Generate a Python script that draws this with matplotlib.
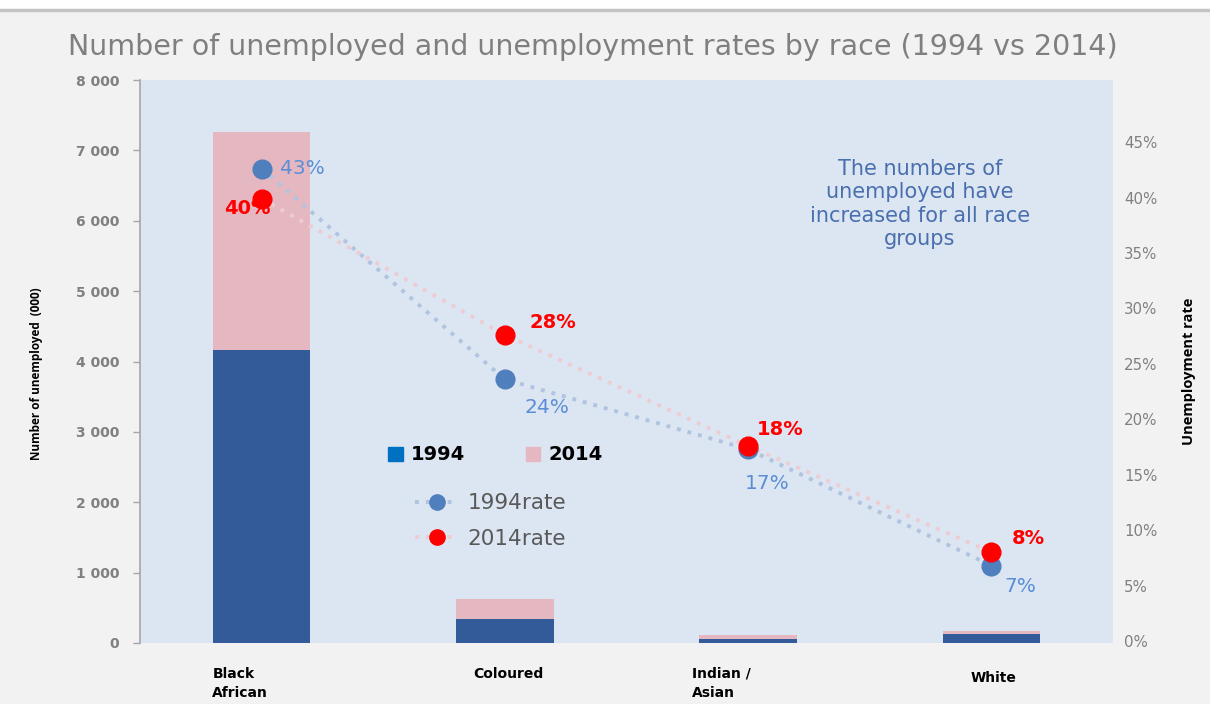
import matplotlib
matplotlib.use("Agg")
import matplotlib.pyplot as plt
from matplotlib.lines import Line2D
from matplotlib.patches import Patch, Rectangle
from matplotlib.ticker import FuncFormatter
import numpy as np

# ---- data -------------------------------------------------------------
categories = ["Black\nAfrican", "Coloured", "Indian /\nAsian", "White"]
unemployed_1994 = [4160, 337, 61, 124]      # thousands
unemployed_2014 = [7260, 625, 109, 166]     # thousands
rate_1994 = [0.426, 0.236, 0.173, 0.068]
rate_2014 = [0.399, 0.276, 0.176, 0.080]
count_ticks = [0, 1000, 2000, 3000, 4000, 5000, 6000, 7000, 8000]
rate_ticks = [0, 0.05, 0.10, 0.15, 0.20, 0.25, 0.30, 0.35, 0.40, 0.45]

# ---- styling ----------------------------------------------------------
W, H = 1210, 704
C_BAR94 = "#335A99"
C_BAR14 = "#E5B8C1"
C_DOT94 = "#4F7FBD"
C_DOT14 = "#FF0000"
C_LINE94 = "#B0C4E0"
C_LINE14 = "#EDCCD3"
C_LBL94 = "#5B8ED6"
GREY = "#808080"
DOTTED = (0, (1, 1.8))
AXIS_TITLE_FONT = ["Open Sans", "DejaVu Sans"]

plt.rcParams["font.family"] = ["DejaVu Sans"]

fig = plt.figure(figsize=(W / 100, H / 100), dpi=100, facecolor="#F2F2F2")

# white strip with a thin rule across the top
fig.patches.append(Rectangle((0, 1 - 9 / H), 1, 9 / H, transform=fig.transFigure,
                             facecolor="white", edgecolor="none", zorder=0))
fig.add_artist(Line2D([0, 1], [1 - 10 / H, 1 - 10 / H], transform=fig.transFigure,
                      color="#C4C4C4", lw=2.5))

ax = fig.add_axes([140 / W, 1 - 643 / H, (1113 - 140) / W, (643 - 80) / H])
ax.set_facecolor("#DCE6F2")

x = np.arange(len(categories))
ax.bar(x, unemployed_2014, width=0.4, color=C_BAR14, zorder=2)
ax.bar(x, unemployed_1994, width=0.4, color=C_BAR94, zorder=3)
ax.set_xlim(-0.5, 3.5)
ax.set_ylim(0, 8000)

for s in ("top", "right", "bottom"):
    ax.spines[s].set_visible(False)
ax.spines["left"].set_color("#A6A6A6")
ax.spines["left"].set_linewidth(1.2)
ax.set_yticks(count_ticks)
ax.yaxis.set_major_formatter(FuncFormatter(lambda v, p: f"{int(v):,}".replace(",", " ")))
ax.tick_params(axis="y", direction="out", length=5, width=1, color="#A6A6A6",
               labelcolor=GREY, labelsize=10, pad=10)
for t in ax.get_yticklabels():
    t.set_fontweight("bold")
ax.set_xticks([])
ax.set_ylabel("Number of unemployed  (000)", fontsize=8.5, fontweight="bold",
              color="black", family=AXIS_TITLE_FONT)
ax.yaxis.set_label_coords(-0.1, 0.478)

# category labels under the bars
label_dx = [-0.088, 0.015, -0.11, 0.01]
label_y = [-0.042, -0.042, -0.042, -0.049]
for xi, name, dx, ly in zip(x, categories, label_dx, label_y):
    ax.text(xi + dx, ly, name, transform=ax.get_xaxis_transform(), ha="center",
            va="top", multialignment="left", fontsize=10, fontweight="bold",
            color="black", linespacing=1.5, clip_on=False)

# ---- rates on the secondary axis -----------------------------------
ax2 = ax.twinx()
ax2.set_ylim(-0.0018, 0.506)
for s in ax2.spines.values():
    s.set_visible(False)
ax2.set_yticks(rate_ticks)
ax2.yaxis.set_major_formatter(FuncFormatter(lambda v, p: f"{v:.0%}"))
ax2.tick_params(axis="y", length=0, labelcolor=GREY, labelsize=10.8, pad=8)
ax2.set_ylabel("Unemployment rate", fontsize=10.5, fontweight="bold", color="black",
               family=AXIS_TITLE_FONT)
ax2.yaxis.set_label_coords(1.071, 0.483)

ax2.plot(x, rate_1994, color=C_LINE94, lw=2.8, ls=DOTTED, zorder=2)
ax2.plot(x, rate_2014, color=C_LINE14, lw=2.8, ls=DOTTED, zorder=2)
ax2.plot(x, rate_1994, ls="none", marker="o", ms=13.5, color=C_DOT94, zorder=3)
ax2.plot(x, rate_2014, ls="none", marker="o", ms=13.5, color=C_DOT14, zorder=4)

# value labels (offsets in points from each marker)
off_1994 = [(13, 0, "left"), (30, -20, "center"), (14, -25, "center"), (21, -15, "center")]
off_2014 = [(-10, -7, "center"), (18, 9, "left"), (6, 12, "left"), (15, 10, "left")]
for xi, v, (dx, dy, ha) in zip(x, rate_1994, off_1994):
    ax2.annotate(f"{v:.0%}", (xi, v), xytext=(dx, dy), textcoords="offset points",
                 ha=ha, va="center", fontsize=14.5, color=C_LBL94, zorder=6)
for xi, v, (dx, dy, ha) in zip(x, rate_2014, off_2014):
    ax2.annotate(f"{v:.0%}", (xi, v), xytext=(dx, dy), textcoords="offset points",
                 ha=ha, va="center", fontsize=14, color=C_DOT14, fontweight="bold",
                 zorder=6)

ax2.text(920 / W, 1 - 204 / H, "The numbers of\nunemployed have\nincreased for all race\ngroups",
         transform=fig.transFigure, ha="center", va="center", fontsize=15,
         color="#4A6FAE", linespacing=1.2)

# ---- legends -------------------------------------------------------
leg_bars = ax2.legend(
    handles=[Patch(color="#0070C0"), Patch(color=C_BAR14)], labels=["1994", "2014"],
    ncol=2, loc="center left", bbox_to_anchor=(388 / W, 1 - 455 / H),
    bbox_transform=fig.transFigure, frameon=False, handlelength=0.75,
    handleheight=0.75, handletextpad=0.4, columnspacing=3.15, borderpad=0,
    borderaxespad=0, prop={"size": 14, "weight": "bold"})
ax2.add_artist(leg_bars)

rate_handles = [
    Line2D([], [], color=C_LINE94, lw=2.8, ls=DOTTED, marker="o", ms=11,
           markerfacecolor=C_DOT94, markeredgecolor=C_DOT94),
    Line2D([], [], color=C_LINE14, lw=2.8, ls=DOTTED, marker="o", ms=11,
           markerfacecolor=C_DOT14, markeredgecolor=C_DOT14),
]
leg_rates = ax2.legend(
    handles=rate_handles, labels=["1994rate", "2014rate"], loc="center left",
    bbox_to_anchor=(415 / W, 1 - 521 / H), bbox_transform=fig.transFigure,
    frameon=False, handlelength=2.0, handletextpad=0.45, labelspacing=0.7,
    borderpad=0, borderaxespad=0, prop={"size": 15.5})
for t in leg_rates.get_texts():
    t.set_color("#595959")

fig.text(68 / W, 1 - 47 / H,
         "Number of unemployed and unemployment rates by race (1994 vs 2014)",
         ha="left", va="center", fontsize=20.5, color="#7F7F7F")

fig.savefig("out.png", dpi=100, facecolor=fig.get_facecolor())
